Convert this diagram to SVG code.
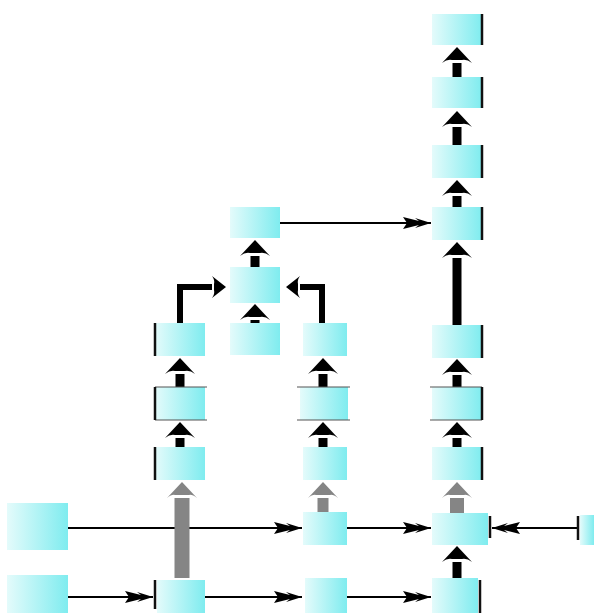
<svg xmlns="http://www.w3.org/2000/svg" width="594" height="613" viewBox="0 0 594 613">
<style>
.box{fill:url(#cy);}
.bar{stroke:#111;stroke-width:2.5;fill:none;}
.edge{stroke:#555;stroke-width:1.2;fill:none;}
.thick{stroke:#000;stroke-width:9;fill:none;marker-end:url(#head);}
.gray{stroke:#858585;fill:none;marker-end:url(#headG);}
.elbow{stroke:#000;stroke-width:6;fill:none;marker-end:url(#headS);}
.thin{stroke:#000;stroke-width:2;fill:none;marker-end:url(#dart);}
</style>
<defs>
<linearGradient id="cy" x1="0" y1="0" x2="1" y2="0">
<stop offset="0" stop-color="#e4fbfb"/>
<stop offset="1" stop-color="#7fecef"/>
</linearGradient>
<marker id="head" markerUnits="userSpaceOnUse" viewBox="0 -16 18 32" refX="0" refY="0" markerWidth="18" markerHeight="32" orient="auto">
<path d="M16,0 L0,-15 Q4,-10 3,-5 L3,5 Q4,10 0,15 Z" fill="#000"/>
</marker>
<marker id="headG" markerUnits="userSpaceOnUse" viewBox="0 -16 18 32" refX="0" refY="0" markerWidth="18" markerHeight="32" orient="auto">
<path d="M16,0 L0,-15 Q4,-10 3,-7 L3,7 Q4,10 0,15 Z" fill="#858585"/>
</marker>
<marker id="headS" markerUnits="userSpaceOnUse" viewBox="0 -12 16 24" refX="0" refY="0" markerWidth="16" markerHeight="24" orient="auto">
<path d="M14,0 L0,-11 Q3,-7 2,-3 L2,3 Q3,7 0,11 Z" fill="#000"/>
</marker>
<marker id="dart" markerUnits="userSpaceOnUse" viewBox="-32 -8 34 16" refX="0" refY="0" markerWidth="34" markerHeight="16" orient="auto">
<path d="M0,0 L-16,-5 L-12,-2 L-28,-6 L-24,0 L-28,6 L-12,2 L-16,5 Z" fill="#000"/>
</marker>
</defs>

<g id="connectors">
<line class="thin" x1="280" y1="223" x2="431" y2="223"/>
<line class="thin" x1="68" y1="528" x2="302" y2="528"/>
<line class="thin" x1="68" y1="597" x2="153" y2="597"/>
<line class="bar" x1="155" y1="580" x2="155" y2="609"/>
<line class="thin" x1="205" y1="597" x2="302" y2="597"/>
<line class="thin" x1="347" y1="528" x2="431" y2="528"/>
<line class="thin" x1="347" y1="597" x2="431" y2="597"/>
<line class="thin" x1="578" y1="528" x2="492" y2="528"/>
<line class="bar" x1="578" y1="516" x2="578" y2="540"/>
<line class="thick" x1="457" y1="77" x2="457" y2="63"/>
<line class="thick" x1="457" y1="145" x2="457" y2="127"/>
<line class="thick" x1="457" y1="207" x2="457" y2="196"/>
<line class="thick" x1="457" y1="325" x2="457" y2="258"/>
<line class="thick" x1="457" y1="387" x2="457" y2="375"/>
<line class="thick" x1="457" y1="447" x2="457" y2="438"/>
<line class="gray" stroke-width="14" x1="457" y1="513" x2="457" y2="498"/>
<line class="thick" x1="457" y1="578" x2="457" y2="562"/>
<line class="thick" x1="323" y1="387" x2="323" y2="374"/>
<line class="thick" x1="323" y1="447" x2="323" y2="438"/>
<line class="gray" stroke-width="11" x1="323" y1="512" x2="323" y2="498"/>
<path class="elbow" d="M322,323 V287 H300"/>
<line class="thick" x1="180" y1="387" x2="180" y2="374"/>
<line class="thick" x1="180" y1="447" x2="180" y2="438"/>
<line class="gray" stroke-width="15" x1="182" y1="578" x2="182" y2="498"/>
<path class="elbow" d="M180,323 V287 H212"/>
<line class="thick" x1="255" y1="267" x2="255" y2="256"/>
<line class="thick" x1="255" y1="323" x2="255" y2="320"/>
</g>

<g id="R1"><rect class="box" x="432" y="14" width="50" height="31"/><line class="bar" x1="482" y1="14" x2="482" y2="45"/></g>
<g id="R2"><rect class="box" x="432" y="77" width="50" height="31"/><line class="bar" x1="482" y1="77" x2="482" y2="108"/></g>
<g id="R3"><rect class="box" x="432" y="145" width="50" height="33"/><line class="bar" x1="482" y1="145" x2="482" y2="178"/></g>
<g id="R4"><rect class="box" x="432" y="207" width="50" height="33"/><line class="bar" x1="482" y1="207" x2="482" y2="240"/></g>
<g id="R5"><rect class="box" x="432" y="325" width="50" height="33"/><line class="bar" x1="482" y1="325" x2="482" y2="358"/></g>
<g id="R6"><rect class="box" x="432" y="387" width="50" height="33"/><path class="edge" d="M430,387 H482 M430,420 H482"/><line class="bar" x1="482" y1="387" x2="482" y2="420"/></g>
<g id="R7"><rect class="box" x="432" y="447" width="50" height="33"/><line class="bar" x1="482" y1="447" x2="482" y2="480"/></g>
<g id="R8"><rect class="box" x="432" y="513" width="56" height="32"/><line class="bar" x1="490" y1="516" x2="490" y2="538"/></g>
<g id="R9"><rect class="box" x="432" y="578" width="46" height="35"/><line class="bar" x1="480" y1="580" x2="480" y2="613"/></g>

<g id="M1"><rect class="box" x="303" y="323" width="44" height="33"/></g>
<g id="M2"><rect class="box" x="300" y="387" width="48" height="33"/><path class="edge" d="M297,387 H350 M297,420 H350"/></g>
<g id="M3"><rect class="box" x="303" y="447" width="44" height="33"/></g>
<g id="M4"><rect class="box" x="303" y="512" width="44" height="33"/></g>
<g id="M5"><rect class="box" x="305" y="578" width="42" height="35"/></g>

<g id="L1"><rect class="box" x="155" y="323" width="50" height="33"/><line class="bar" x1="155" y1="323" x2="155" y2="356"/></g>
<g id="L2"><rect class="box" x="155" y="387" width="50" height="33"/><path class="edge" d="M155,387 H207 M155,420 H207"/><line class="bar" x1="155" y1="387" x2="155" y2="420"/></g>
<g id="L3"><rect class="box" x="155" y="447" width="50" height="33"/><line class="bar" x1="155" y1="447" x2="155" y2="480"/></g>
<g id="L4"><rect class="box" x="157" y="580" width="48" height="33"/></g>

<g id="U1"><rect class="box" x="230" y="207" width="50" height="31"/></g>
<g id="U2"><rect class="box" x="230" y="267" width="50" height="36"/></g>
<g id="U3"><rect class="box" x="230" y="323" width="50" height="32"/></g>

<g id="F1"><rect class="box" x="7" y="503" width="61" height="47"/></g>
<g id="F2"><rect class="box" x="7" y="575" width="61" height="38"/></g>
<g id="X1"><rect class="box" x="580" y="515" width="14" height="30"/></g>
</svg>
